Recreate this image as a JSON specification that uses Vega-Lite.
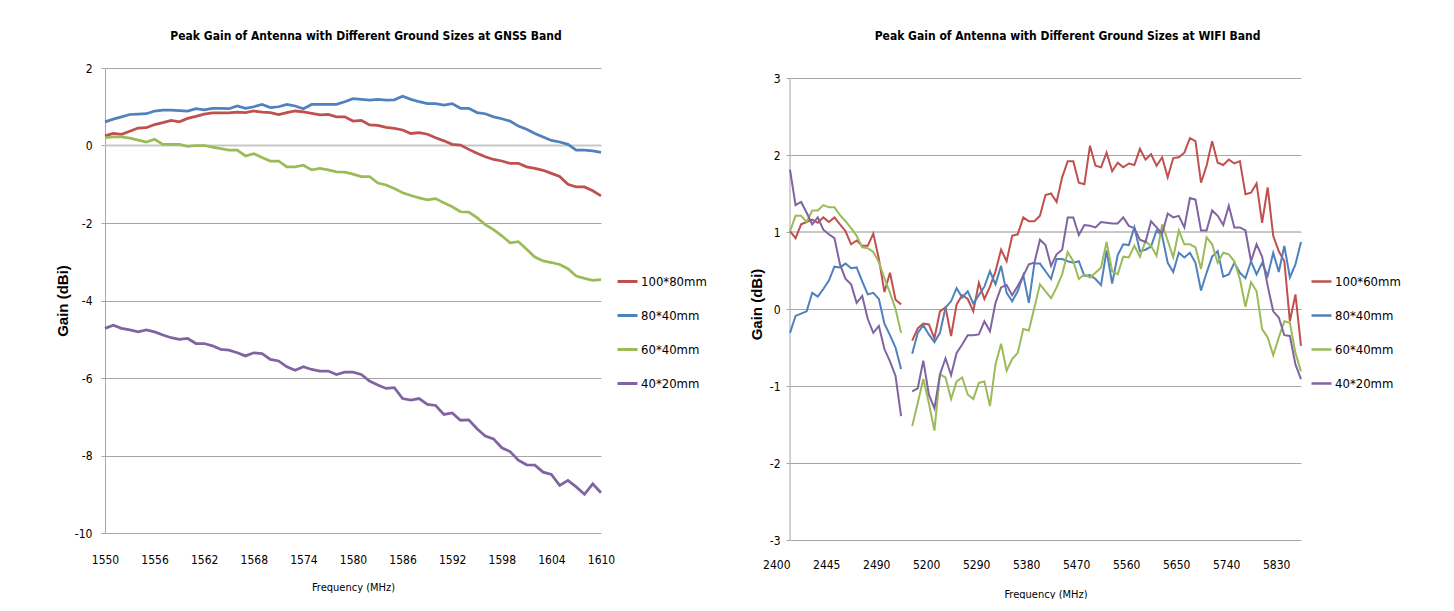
{
  "$schema": "https://vega.github.io/schema/vega-lite/v6.json",
  "background": "white",
  "padding": {"left": 55, "top": 30, "right": 0, "bottom": 0},
  "spacing": 42,
  "config": {
    "font": "DejaVu Sans Condensed, sans-serif",
    "view": {"stroke": null},
    "axis": {
      "labelFont": "DejaVu Sans Condensed, sans-serif",
      "labelFontSize": 12,
      "labelColor": "#000000",
      "titleFont": "DejaVu Sans Condensed, sans-serif",
      "titleColor": "#000000",
      "gridColor": "#A6A6A6",
      "gridWidth": 1,
      "domainColor": "#A6A6A6",
      "tickColor": "#A6A6A6",
      "labelFlush": false
    },
    "legend": {
      "labelFont": "DejaVu Sans Condensed, sans-serif",
      "labelFontSize": 13,
      "labelColor": "#000000",
      "symbolType": "stroke",
      "symbolSize": 400,
      "rowPadding": 15,
      "labelOffset": 2
    },
    "title": {
      "font": "DejaVu Sans Condensed, sans-serif",
      "fontSize": 12,
      "fontWeight": "bold",
      "color": "#000000",
      "anchor": "middle"
    }
  },
  "datasets": {
    "gnss": [
      {"f":1550,"100*80mm":0.25,"80*40mm":0.61,"60*40mm":0.20,"40*20mm":-4.72},
      {"f":1551,"100*80mm":0.31,"80*40mm":0.68,"60*40mm":0.22,"40*20mm":-4.64},
      {"f":1552,"100*80mm":0.29,"80*40mm":0.74,"60*40mm":0.22,"40*20mm":-4.72},
      {"f":1553,"100*80mm":0.37,"80*40mm":0.80,"60*40mm":0.19,"40*20mm":-4.76},
      {"f":1554,"100*80mm":0.45,"80*40mm":0.81,"60*40mm":0.14,"40*20mm":-4.81},
      {"f":1555,"100*80mm":0.46,"80*40mm":0.82,"60*40mm":0.09,"40*20mm":-4.76},
      {"f":1556,"100*80mm":0.54,"80*40mm":0.89,"60*40mm":0.16,"40*20mm":-4.81},
      {"f":1557,"100*80mm":0.59,"80*40mm":0.91,"60*40mm":0.03,"40*20mm":-4.89},
      {"f":1558,"100*80mm":0.65,"80*40mm":0.91,"60*40mm":0.03,"40*20mm":-4.96},
      {"f":1559,"100*80mm":0.61,"80*40mm":0.90,"60*40mm":0.03,"40*20mm":-5.00},
      {"f":1560,"100*80mm":0.70,"80*40mm":0.89,"60*40mm":-0.02,"40*20mm":-4.98},
      {"f":1561,"100*80mm":0.75,"80*40mm":0.95,"60*40mm":0.00,"40*20mm":-5.11},
      {"f":1562,"100*80mm":0.81,"80*40mm":0.92,"60*40mm":0.00,"40*20mm":-5.11},
      {"f":1563,"100*80mm":0.84,"80*40mm":0.96,"60*40mm":-0.04,"40*20mm":-5.17},
      {"f":1564,"100*80mm":0.84,"80*40mm":0.96,"60*40mm":-0.08,"40*20mm":-5.26},
      {"f":1565,"100*80mm":0.84,"80*40mm":0.95,"60*40mm":-0.12,"40*20mm":-5.28},
      {"f":1566,"100*80mm":0.86,"80*40mm":1.02,"60*40mm":-0.12,"40*20mm":-5.35},
      {"f":1567,"100*80mm":0.85,"80*40mm":0.96,"60*40mm":-0.27,"40*20mm":-5.43},
      {"f":1568,"100*80mm":0.89,"80*40mm":1.00,"60*40mm":-0.21,"40*20mm":-5.35},
      {"f":1569,"100*80mm":0.86,"80*40mm":1.06,"60*40mm":-0.31,"40*20mm":-5.37},
      {"f":1570,"100*80mm":0.85,"80*40mm":0.98,"60*40mm":-0.40,"40*20mm":-5.52},
      {"f":1571,"100*80mm":0.80,"80*40mm":1.00,"60*40mm":-0.40,"40*20mm":-5.56},
      {"f":1572,"100*80mm":0.85,"80*40mm":1.06,"60*40mm":-0.55,"40*20mm":-5.71},
      {"f":1573,"100*80mm":0.89,"80*40mm":1.02,"60*40mm":-0.55,"40*20mm":-5.80},
      {"f":1574,"100*80mm":0.87,"80*40mm":0.95,"60*40mm":-0.51,"40*20mm":-5.71},
      {"f":1575,"100*80mm":0.83,"80*40mm":1.06,"60*40mm":-0.63,"40*20mm":-5.78},
      {"f":1576,"100*80mm":0.79,"80*40mm":1.06,"60*40mm":-0.59,"40*20mm":-5.82},
      {"f":1577,"100*80mm":0.80,"80*40mm":1.06,"60*40mm":-0.63,"40*20mm":-5.82},
      {"f":1578,"100*80mm":0.74,"80*40mm":1.06,"60*40mm":-0.68,"40*20mm":-5.91},
      {"f":1579,"100*80mm":0.74,"80*40mm":1.13,"60*40mm":-0.69,"40*20mm":-5.85},
      {"f":1580,"100*80mm":0.63,"80*40mm":1.21,"60*40mm":-0.74,"40*20mm":-5.85},
      {"f":1581,"100*80mm":0.65,"80*40mm":1.19,"60*40mm":-0.80,"40*20mm":-5.91},
      {"f":1582,"100*80mm":0.53,"80*40mm":1.17,"60*40mm":-0.80,"40*20mm":-6.08},
      {"f":1583,"100*80mm":0.52,"80*40mm":1.19,"60*40mm":-0.97,"40*20mm":-6.18},
      {"f":1584,"100*80mm":0.47,"80*40mm":1.17,"60*40mm":-1.02,"40*20mm":-6.27},
      {"f":1585,"100*80mm":0.44,"80*40mm":1.18,"60*40mm":-1.11,"40*20mm":-6.25},
      {"f":1586,"100*80mm":0.40,"80*40mm":1.27,"60*40mm":-1.22,"40*20mm":-6.53},
      {"f":1587,"100*80mm":0.31,"80*40mm":1.19,"60*40mm":-1.29,"40*20mm":-6.57},
      {"f":1588,"100*80mm":0.33,"80*40mm":1.13,"60*40mm":-1.35,"40*20mm":-6.53},
      {"f":1589,"100*80mm":0.29,"80*40mm":1.08,"60*40mm":-1.40,"40*20mm":-6.68},
      {"f":1590,"100*80mm":0.20,"80*40mm":1.08,"60*40mm":-1.37,"40*20mm":-6.71},
      {"f":1591,"100*80mm":0.12,"80*40mm":1.04,"60*40mm":-1.48,"40*20mm":-6.94},
      {"f":1592,"100*80mm":0.03,"80*40mm":1.08,"60*40mm":-1.58,"40*20mm":-6.90},
      {"f":1593,"100*80mm":0.01,"80*40mm":0.96,"60*40mm":-1.71,"40*20mm":-7.09},
      {"f":1594,"100*80mm":-0.10,"80*40mm":0.96,"60*40mm":-1.72,"40*20mm":-7.08},
      {"f":1595,"100*80mm":-0.20,"80*40mm":0.85,"60*40mm":-1.86,"40*20mm":-7.31},
      {"f":1596,"100*80mm":-0.29,"80*40mm":0.82,"60*40mm":-2.04,"40*20mm":-7.50},
      {"f":1597,"100*80mm":-0.36,"80*40mm":0.74,"60*40mm":-2.17,"40*20mm":-7.57},
      {"f":1598,"100*80mm":-0.40,"80*40mm":0.69,"60*40mm":-2.33,"40*20mm":-7.80},
      {"f":1599,"100*80mm":-0.46,"80*40mm":0.63,"60*40mm":-2.51,"40*20mm":-7.90},
      {"f":1600,"100*80mm":-0.46,"80*40mm":0.50,"60*40mm":-2.48,"40*20mm":-8.12},
      {"f":1601,"100*80mm":-0.55,"80*40mm":0.42,"60*40mm":-2.68,"40*20mm":-8.24},
      {"f":1602,"100*80mm":-0.59,"80*40mm":0.31,"60*40mm":-2.88,"40*20mm":-8.25},
      {"f":1603,"100*80mm":-0.64,"80*40mm":0.22,"60*40mm":-2.98,"40*20mm":-8.43},
      {"f":1604,"100*80mm":-0.72,"80*40mm":0.13,"60*40mm":-3.02,"40*20mm":-8.49},
      {"f":1605,"100*80mm":-0.80,"80*40mm":0.09,"60*40mm":-3.07,"40*20mm":-8.77},
      {"f":1606,"100*80mm":-1.00,"80*40mm":0.03,"60*40mm":-3.18,"40*20mm":-8.64},
      {"f":1607,"100*80mm":-1.07,"80*40mm":-0.12,"60*40mm":-3.37,"40*20mm":-8.81},
      {"f":1608,"100*80mm":-1.07,"80*40mm":-0.12,"60*40mm":-3.43,"40*20mm":-9.00},
      {"f":1609,"100*80mm":-1.17,"80*40mm":-0.14,"60*40mm":-3.48,"40*20mm":-8.73},
      {"f":1610,"100*80mm":-1.30,"80*40mm":-0.18,"60*40mm":-3.46,"40*20mm":-8.96}
    ],
    "wifi": [
      {"f":"2400","b":"2.4G","100*60mm":1.01,"80*40mm":-0.31,"60*40mm":1.01,"40*20mm":1.81},
      {"f":"2405","b":"2.4G","100*60mm":0.92,"80*40mm":-0.09,"60*40mm":1.21,"40*20mm":1.35},
      {"f":"2410","b":"2.4G","100*60mm":1.10,"80*40mm":-0.06,"60*40mm":1.21,"40*20mm":1.39},
      {"f":"2415","b":"2.4G","100*60mm":1.13,"80*40mm":-0.03,"60*40mm":1.13,"40*20mm":1.25},
      {"f":"2420","b":"2.4G","100*60mm":1.16,"80*40mm":0.21,"60*40mm":1.28,"40*20mm":1.10},
      {"f":"2425","b":"2.4G","100*60mm":1.12,"80*40mm":0.16,"60*40mm":1.28,"40*20mm":1.19},
      {"f":"2430","b":"2.4G","100*60mm":1.19,"80*40mm":0.26,"60*40mm":1.35,"40*20mm":1.03},
      {"f":"2435","b":"2.4G","100*60mm":1.13,"80*40mm":0.37,"60*40mm":1.32,"40*20mm":0.97},
      {"f":"2440","b":"2.4G","100*60mm":1.19,"80*40mm":0.55,"60*40mm":1.32,"40*20mm":0.92},
      {"f":"2445","b":"2.4G","100*60mm":1.10,"80*40mm":0.54,"60*40mm":1.22,"40*20mm":0.58},
      {"f":"2450","b":"2.4G","100*60mm":1.01,"80*40mm":0.59,"60*40mm":1.14,"40*20mm":0.39},
      {"f":"2455","b":"2.4G","100*60mm":0.84,"80*40mm":0.53,"60*40mm":1.05,"40*20mm":0.32},
      {"f":"2460","b":"2.4G","100*60mm":0.89,"80*40mm":0.54,"60*40mm":0.95,"40*20mm":0.08},
      {"f":"2465","b":"2.4G","100*60mm":0.82,"80*40mm":0.36,"60*40mm":0.80,"40*20mm":0.17},
      {"f":"2470","b":"2.4G","100*60mm":0.82,"80*40mm":0.19,"60*40mm":0.79,"40*20mm":-0.13},
      {"f":"2475","b":"2.4G","100*60mm":0.98,"80*40mm":0.21,"60*40mm":0.74,"40*20mm":-0.31},
      {"f":"2480","b":"2.4G","100*60mm":0.65,"80*40mm":0.13,"60*40mm":0.61,"40*20mm":-0.22},
      {"f":"2485","b":"2.4G","100*60mm":0.22,"80*40mm":-0.19,"60*40mm":0.40,"40*20mm":-0.52},
      {"f":"2490","b":"2.4G","100*60mm":0.47,"80*40mm":-0.34,"60*40mm":0.21,"40*20mm":-0.68},
      {"f":"2495","b":"2.4G","100*60mm":0.12,"80*40mm":-0.50,"60*40mm":0.00,"40*20mm":-0.87},
      {"f":"2500","b":"2.4G","100*60mm":0.06,"80*40mm":-0.78,"60*40mm":-0.31,"40*20mm":-1.39},
      {"f":"5150","b":"5G","100*60mm":-0.41,"80*40mm":-0.58,"60*40mm":-1.52,"40*20mm":-1.07},
      {"f":"5160","b":"5G","100*60mm":-0.25,"80*40mm":-0.31,"60*40mm":-1.22,"40*20mm":-1.03},
      {"f":"5170","b":"5G","100*60mm":-0.19,"80*40mm":-0.21,"60*40mm":-0.91,"40*20mm":-0.67},
      {"f":"5180","b":"5G","100*60mm":-0.20,"80*40mm":-0.33,"60*40mm":-1.22,"40*20mm":-1.11},
      {"f":"5190","b":"5G","100*60mm":-0.38,"80*40mm":-0.43,"60*40mm":-1.58,"40*20mm":-1.29},
      {"f":"5200","b":"5G","100*60mm":-0.03,"80*40mm":-0.31,"60*40mm":-0.85,"40*20mm":-0.85},
      {"f":"5210","b":"5G","100*60mm":0.02,"80*40mm":0.02,"60*40mm":-0.89,"40*20mm":-0.64},
      {"f":"5220","b":"5G","100*60mm":-0.35,"80*40mm":0.10,"60*40mm":-1.17,"40*20mm":-0.86},
      {"f":"5230","b":"5G","100*60mm":0.06,"80*40mm":0.27,"60*40mm":-0.94,"40*20mm":-0.57},
      {"f":"5240","b":"5G","100*60mm":0.18,"80*40mm":0.15,"60*40mm":-0.89,"40*20mm":-0.46},
      {"f":"5250","b":"5G","100*60mm":0.13,"80*40mm":0.23,"60*40mm":-1.11,"40*20mm":-0.34},
      {"f":"5260","b":"5G","100*60mm":-0.03,"80*40mm":0.07,"60*40mm":-1.17,"40*20mm":-0.34},
      {"f":"5270","b":"5G","100*60mm":0.34,"80*40mm":0.18,"60*40mm":-0.96,"40*20mm":-0.33},
      {"f":"5280","b":"5G","100*60mm":0.13,"80*40mm":0.29,"60*40mm":-0.94,"40*20mm":-0.16},
      {"f":"5290","b":"5G","100*60mm":0.29,"80*40mm":0.49,"60*40mm":-1.26,"40*20mm":-0.29},
      {"f":"5300","b":"5G","100*60mm":0.49,"80*40mm":0.32,"60*40mm":-0.72,"40*20mm":0.08},
      {"f":"5310","b":"5G","100*60mm":0.77,"80*40mm":0.56,"60*40mm":-0.45,"40*20mm":0.28},
      {"f":"5320","b":"5G","100*60mm":0.62,"80*40mm":0.21,"60*40mm":-0.80,"40*20mm":0.31},
      {"f":"5330","b":"5G","100*60mm":0.95,"80*40mm":0.10,"60*40mm":-0.65,"40*20mm":0.18},
      {"f":"5340","b":"5G","100*60mm":0.97,"80*40mm":0.23,"60*40mm":-0.57,"40*20mm":0.30},
      {"f":"5350","b":"5G","100*60mm":1.19,"80*40mm":0.44,"60*40mm":-0.26,"40*20mm":0.43},
      {"f":"5360","b":"5G","100*60mm":1.14,"80*40mm":0.08,"60*40mm":-0.28,"40*20mm":0.58},
      {"f":"5370","b":"5G","100*60mm":1.14,"80*40mm":0.59,"60*40mm":0.02,"40*20mm":0.60},
      {"f":"5380","b":"5G","100*60mm":1.21,"80*40mm":0.59,"60*40mm":0.32,"40*20mm":0.90},
      {"f":"5390","b":"5G","100*60mm":1.48,"80*40mm":0.49,"60*40mm":0.23,"40*20mm":0.83},
      {"f":"5400","b":"5G","100*60mm":1.50,"80*40mm":0.39,"60*40mm":0.14,"40*20mm":0.56},
      {"f":"5410","b":"5G","100*60mm":1.39,"80*40mm":0.65,"60*40mm":0.28,"40*20mm":0.71},
      {"f":"5420","b":"5G","100*60mm":1.71,"80*40mm":0.65,"60*40mm":0.45,"40*20mm":0.77},
      {"f":"5430","b":"5G","100*60mm":1.92,"80*40mm":0.62,"60*40mm":0.74,"40*20mm":1.19},
      {"f":"5440","b":"5G","100*60mm":1.92,"80*40mm":0.60,"60*40mm":0.62,"40*20mm":1.19},
      {"f":"5450","b":"5G","100*60mm":1.64,"80*40mm":0.62,"60*40mm":0.39,"40*20mm":0.96},
      {"f":"5460","b":"5G","100*60mm":1.62,"80*40mm":0.43,"60*40mm":0.45,"40*20mm":1.09},
      {"f":"5470","b":"5G","100*60mm":2.12,"80*40mm":0.44,"60*40mm":0.41,"40*20mm":1.08},
      {"f":"5480","b":"5G","100*60mm":1.86,"80*40mm":0.39,"60*40mm":0.47,"40*20mm":1.06},
      {"f":"5490","b":"5G","100*60mm":1.84,"80*40mm":0.31,"60*40mm":0.54,"40*20mm":1.13},
      {"f":"5500","b":"5G","100*60mm":2.03,"80*40mm":0.76,"60*40mm":0.87,"40*20mm":1.12},
      {"f":"5510","b":"5G","100*60mm":1.79,"80*40mm":0.33,"60*40mm":0.49,"40*20mm":1.11},
      {"f":"5520","b":"5G","100*60mm":1.90,"80*40mm":0.70,"60*40mm":0.45,"40*20mm":1.11},
      {"f":"5530","b":"5G","100*60mm":1.84,"80*40mm":0.84,"60*40mm":0.68,"40*20mm":1.19},
      {"f":"5540","b":"5G","100*60mm":1.89,"80*40mm":0.83,"60*40mm":0.67,"40*20mm":1.08},
      {"f":"5550","b":"5G","100*60mm":1.87,"80*40mm":1.06,"60*40mm":0.82,"40*20mm":1.05},
      {"f":"5560","b":"5G","100*60mm":2.08,"80*40mm":0.75,"60*40mm":0.68,"40*20mm":0.90},
      {"f":"5570","b":"5G","100*60mm":1.94,"80*40mm":0.77,"60*40mm":0.88,"40*20mm":0.87},
      {"f":"5580","b":"5G","100*60mm":2.01,"80*40mm":0.81,"60*40mm":0.82,"40*20mm":1.14},
      {"f":"5590","b":"5G","100*60mm":1.86,"80*40mm":1.02,"60*40mm":0.69,"40*20mm":1.06},
      {"f":"5600","b":"5G","100*60mm":1.97,"80*40mm":0.95,"60*40mm":1.10,"40*20mm":0.98},
      {"f":"5610","b":"5G","100*60mm":1.71,"80*40mm":0.60,"60*40mm":0.89,"40*20mm":1.24},
      {"f":"5620","b":"5G","100*60mm":1.96,"80*40mm":0.48,"60*40mm":0.67,"40*20mm":1.19},
      {"f":"5630","b":"5G","100*60mm":1.97,"80*40mm":0.73,"60*40mm":1.02,"40*20mm":1.21},
      {"f":"5640","b":"5G","100*60mm":2.03,"80*40mm":0.67,"60*40mm":0.84,"40*20mm":1.06},
      {"f":"5650","b":"5G","100*60mm":2.22,"80*40mm":0.73,"60*40mm":0.84,"40*20mm":1.44},
      {"f":"5660","b":"5G","100*60mm":2.18,"80*40mm":0.60,"60*40mm":0.80,"40*20mm":1.42},
      {"f":"5670","b":"5G","100*60mm":1.64,"80*40mm":0.24,"60*40mm":0.52,"40*20mm":1.02},
      {"f":"5680","b":"5G","100*60mm":1.86,"80*40mm":0.47,"60*40mm":0.93,"40*20mm":1.02},
      {"f":"5690","b":"5G","100*60mm":2.18,"80*40mm":0.68,"60*40mm":0.84,"40*20mm":1.28},
      {"f":"5700","b":"5G","100*60mm":1.90,"80*40mm":0.75,"60*40mm":0.60,"40*20mm":1.21},
      {"f":"5710","b":"5G","100*60mm":1.87,"80*40mm":0.42,"60*40mm":0.73,"40*20mm":1.09},
      {"f":"5720","b":"5G","100*60mm":1.94,"80*40mm":0.45,"60*40mm":0.71,"40*20mm":1.34},
      {"f":"5730","b":"5G","100*60mm":1.89,"80*40mm":0.60,"60*40mm":0.62,"40*20mm":1.06},
      {"f":"5740","b":"5G","100*60mm":1.92,"80*40mm":0.47,"60*40mm":0.39,"40*20mm":1.06},
      {"f":"5750","b":"5G","100*60mm":1.49,"80*40mm":0.40,"60*40mm":0.03,"40*20mm":1.02},
      {"f":"5760","b":"5G","100*60mm":1.51,"80*40mm":0.62,"60*40mm":0.35,"40*20mm":0.62},
      {"f":"5770","b":"5G","100*60mm":1.63,"80*40mm":0.45,"60*40mm":0.23,"40*20mm":0.84},
      {"f":"5780","b":"5G","100*60mm":1.12,"80*40mm":0.60,"60*40mm":-0.26,"40*20mm":0.68},
      {"f":"5790","b":"5G","100*60mm":1.58,"80*40mm":0.43,"60*40mm":-0.37,"40*20mm":0.30},
      {"f":"5800","b":"5G","100*60mm":0.95,"80*40mm":0.73,"60*40mm":-0.60,"40*20mm":-0.03},
      {"f":"5810","b":"5G","100*60mm":0.75,"80*40mm":0.48,"60*40mm":-0.37,"40*20mm":-0.11},
      {"f":"5820","b":"5G","100*60mm":0.62,"80*40mm":0.82,"60*40mm":-0.16,"40*20mm":-0.34},
      {"f":"5830","b":"5G","100*60mm":-0.16,"80*40mm":0.41,"60*40mm":-0.18,"40*20mm":-0.35},
      {"f":"5840","b":"5G","100*60mm":0.19,"80*40mm":0.58,"60*40mm":-0.57,"40*20mm":-0.72},
      {"f":"5850","b":"5G","100*60mm":-0.48,"80*40mm":0.87,"60*40mm":-0.81,"40*20mm":-0.91}
    ]
  },
  "hconcat": [
    {
      "width": 496,
      "height": 465,
      "title": {"text": "Peak Gain of Antenna with Different Ground Sizes at GNSS Band", "dx": 13, "offset": 19},
      "layer": [
        {
          "data": {"values": [{}]},
          "mark": {"type": "rule", "color": "#C8C8C8", "strokeWidth": 2},
          "encoding": {"y": {"datum": 0}}
        },
        {
          "data": {"name": "gnss"},
          "transform": [{"fold": ["100*80mm", "80*40mm", "60*40mm", "40*20mm"], "as": ["series", "gain"]}],
          "mark": {"type": "line", "strokeWidth": 2.75},
          "encoding": {
            "x": {
              "field": "f", "type": "quantitative",
              "scale": {"domain": [1550, 1610], "nice": false, "zero": false},
              "axis": {
                "values": [1550, 1556, 1562, 1568, 1574, 1580, 1586, 1592, 1598, 1604, 1610],
                "labelExpr": "'' + datum.value",
                "labelFlush": false,
                "grid": false, "domain": false, "ticks": false,
                "labelPadding": 21,
                "title": "Frequency (MHz)", "titleFontSize": 11, "titleFontWeight": "normal", "titlePadding": 16
              }
            },
            "y": {
              "field": "gain", "type": "quantitative",
              "scale": {"domain": [-10, 2], "nice": false, "zero": false},
              "axis": {
                "values": [-10, -8, -6, -4, -2, 0, 2],
                "labelExpr": "'' + datum.value",
                "grid": true, "domain": true, "ticks": true, "tickSize": 4,
                "labelPadding": 9,
                "title": "Gain (dBi)", "titleFont": "Liberation Sans, Arial, sans-serif", "titleFontSize": 15, "titleFontWeight": "bold", "titlePadding": 4
              }
            },
            "color": {
              "field": "series", "type": "nominal",
              "scale": {"domain": ["100*80mm", "80*40mm", "60*40mm", "40*20mm"], "range": ["#C0504D", "#4F81BD", "#9BBB59", "#8064A2"]},
              "legend": {"title": null, "orient": "none", "legendX": 511, "legendY": 202, "symbolStrokeWidth": 3}
            }
          }
        }
      ]
    },
    {
      "width": 511,
      "height": 472,
      "title": {"text": "Peak Gain of Antenna with Different Ground Sizes at WIFI Band", "dx": 22, "offset": 25},
      "layer": [
        {
          "data": {"values": [{}]},
          "mark": {"type": "rule", "color": "#C8C8C8", "strokeWidth": 2},
          "encoding": {"y": {"datum": 1}}
        },
        {
          "data": {"values": [{}]},
          "mark": {"type": "rule", "color": "#A6A6A6", "strokeWidth": 1},
          "encoding": {"x": {"datum": "2400"}, "y": {"datum": -3}, "y2": {"datum": 3}}
        },
        {
          "data": {"name": "wifi"},
          "transform": [{"fold": ["100*60mm", "80*40mm", "60*40mm", "40*20mm"], "as": ["series", "gain"]}],
          "mark": {"type": "line", "strokeWidth": 2},
          "encoding": {
            "x": {
              "field": "f", "type": "ordinal",
              "scale": {"type": "point", "padding": 0, "domain": ["2400","2405","2410","2415","2420","2425","2430","2435","2440","2445","2450","2455","2460","2465","2470","2475","2480","2485","2490","2495","2500"," ","5150","5160","5170","5180","5190","5200","5210","5220","5230","5240","5250","5260","5270","5280","5290","5300","5310","5320","5330","5340","5350","5360","5370","5380","5390","5400","5410","5420","5430","5440","5450","5460","5470","5480","5490","5500","5510","5520","5530","5540","5550","5560","5570","5580","5590","5600","5610","5620","5630","5640","5650","5660","5670","5680","5690","5700","5710","5720","5730","5740","5750","5760","5770","5780","5790","5800","5810","5820","5830","5840","5850"]},
              "axis": {
                "values": ["2400", "2445", "2490", "5200", "5290", "5380", "5470", "5560", "5650", "5740", "5830"],
                "labelAngle": 0,
                "labelFlush": false,
                "grid": false, "domain": false, "ticks": false,
                "labelPadding": 24,
                "title": "Frequency (MHz)", "titleFontSize": 11, "titleFontWeight": "normal", "titlePadding": 18
              }
            },
            "y": {
              "field": "gain", "type": "quantitative",
              "scale": {"domain": [-3, 3.13], "nice": false, "zero": false},
              "axis": {
                "values": [-3, -2, -1, 0, 1, 2, 3],
                "labelExpr": "'' + datum.value",
                "grid": true, "domain": false, "ticks": true, "tickSize": 4,
                "labelPadding": 6,
                "title": "Gain (dBi)", "titleFont": "Liberation Sans, Arial, sans-serif", "titleFontSize": 15, "titleFontWeight": "bold", "titlePadding": 5
              }
            },
            "detail": {"field": "b", "type": "nominal"},
            "color": {
              "field": "series", "type": "nominal",
              "scale": {"domain": ["100*60mm", "80*40mm", "60*40mm", "40*20mm"], "range": ["#C0504D", "#4F81BD", "#9BBB59", "#8064A2"]},
              "legend": {"title": null, "orient": "none", "legendX": 520, "legendY": 202, "symbolStrokeWidth": 2.5}
            }
          }
        }
      ]
    }
  ],
  "resolve": {"scale": {"color": "independent"}, "legend": {"color": "independent"}}
}
